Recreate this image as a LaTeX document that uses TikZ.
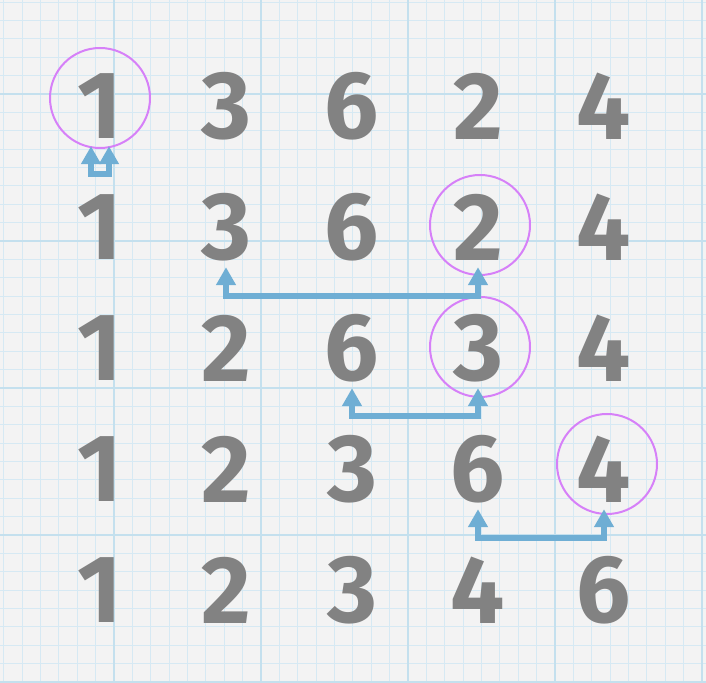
\documentclass[tikz,border=0pt]{standalone}
\usepackage{fontspec}
\setmainfont{Fira Sans}
\usepackage{xcolor}
\usetikzlibrary{arrows.meta}

\definecolor{paper}{RGB}{243,243,243}
\definecolor{minorgrid}{RGB}{214,233,243}
\definecolor{majorgrid}{RGB}{196,224,238}
\definecolor{inkgray}{RGB}{130,130,130}
\definecolor{swapblue}{RGB}{111,174,212}
\definecolor{ringviolet}{RGB}{214,128,248}

\tikzset{
  digit/.style={inner sep=0pt, minimum width=60pt, minimum height=80pt,
    text=inkgray, font=\fontsize{96}{96}\selectfont\bfseries},
  ring/.style={circle, draw=ringviolet, line width=2pt, inner sep=0pt,
    minimum size=100pt},
  swap/.style={draw=swapblue, line width=5.5pt,
    {Triangle[width=19pt,length=18pt]}-{Triangle[width=19pt,length=18pt]}}
}

\begin{document}
\begin{tikzpicture}[x=1pt,y=1pt]
        % --- paper ---
        \fill[paper] (0,0) rectangle (706,682);
        \useasboundingbox (0,0) rectangle (706,682);
        \foreach \i in {0,...,38}
            \draw[minorgrid, line width=0.9pt] ({3.75+18.375*\i},0) -- ++(0,682);
        \foreach \i in {0,...,37}
            \draw[minorgrid, line width=0.9pt] (0,{18.375*\i}) -- ++(706,0);
        \foreach \i in {0,...,4}
            \draw[majorgrid, line width=1.8pt] ({114+147*\i},0) -- ++(0,682);
        \foreach \i in {0,...,4}
            \draw[majorgrid, line width=1.8pt] (0,{147*\i}) -- ++(706,0);

        % --- rows of digits ---
        \foreach \d [count=\c] in {1,3,6,2,4}
            \node[digit] (r1c\c) at ({100+126*(\c-1)},576) {\d};
        \foreach \d [count=\c] in {1,3,6,2,4}
            \node[digit] (r2c\c) at ({100+126*(\c-1)},455) {\d};
        \foreach \d [count=\c] in {1,2,6,3,4}
            \node[digit] (r3c\c) at ({100+126*(\c-1)},334) {\d};
        \foreach \d [count=\c] in {1,2,3,6,4}
            \node[digit] (r4c\c) at ({100+126*(\c-1)},213) {\d};
        \foreach \d [count=\c] in {1,2,3,4,6}
            \node[digit] (r5c\c) at ({100+126*(\c-1)},92) {\d};

        % --- rings ---
        \node[ring] (ring1) at ([yshift=8pt]r1c1.center) {};
        \node[ring] (ring2) at ([xshift=2pt,yshift=2pt]r2c4.center) {};
        \node[ring] (ring3) at ([xshift=2pt,yshift=1pt]r3c4.center) {};
        \node[ring] (ring4) at ([xshift=3pt,yshift=5pt]r4c5.center) {};

        % --- swaps ---
        \draw[swap] ([xshift=-9pt]r1c1.south) -- ++(0,-28) -| ([xshift=9pt]r1c1.south);
        \draw[swap] (r2c2.south) -- ++(0,-29) -| (r2c4.south);
        \draw[swap] (r3c3.south) -- ++(0,-28) -| (r3c4.south);
        \draw[swap] (r4c4.south) -- ++(0,-29) -| (r4c5.south);
    \end{tikzpicture}
\end{document}
